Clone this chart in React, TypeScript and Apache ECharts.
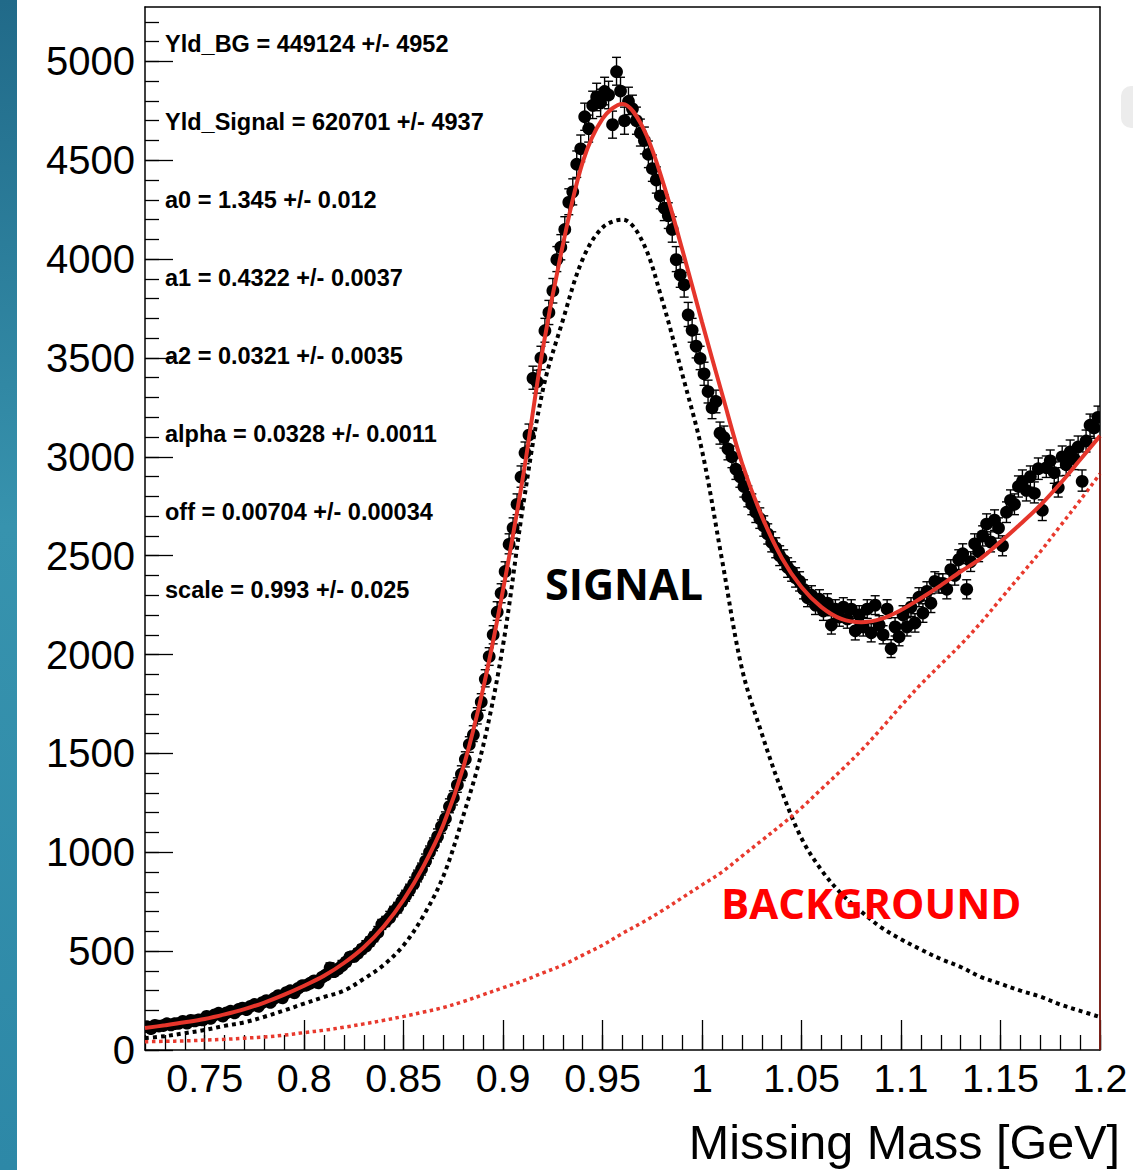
import React, { useEffect, useRef } from "react";
import * as echarts from "echarts";

// Histogram: bin centres start at 0.721 GeV, width 0.002 GeV
const BIN_START = 0.72;
const BIN_WIDTH = 0.002;
const counts = [
  118, 112, 125, 121, 128,
  133, 127, 138, 135, 145,
  142, 150, 147, 158, 152,
  170, 164, 178, 186, 176,
  188, 196, 192, 205, 212,
  208, 221, 230, 226, 240,
  250, 246, 262, 275, 268,
  290, 300, 295, 312, 325,
  332, 338, 350, 345, 368,
  380, 420, 396, 410, 432,
  445, 470, 478, 490, 510,
  530, 548, 572, 600, 635,
  650, 675, 700, 720, 755,
  780, 810, 845, 880, 915,
  960, 1000, 1040, 1085, 1130,
  1170, 1235, 1275, 1340, 1400,
  1470, 1545, 1600, 1690, 1760,
  1880, 1990, 2100, 2220, 2310,
  2420, 2560, 2640, 2760, 2900,
  3020, 3110, 3400, 3380, 3500,
  3640, 3730, 3840, 4000, 4060,
  4150, 4290, 4340, 4480, 4560,
  4720, 4660, 4780, 4820, 4790,
  4850, 4830, 4680, 4950, 4850,
  4700, 4800, 4760, 4700, 4640,
  4600, 4530, 4460, 4400, 4320,
  4260, 4220, 4150, 4000, 3920,
  3870, 3720, 3640, 3560, 3500,
  3420, 3330, 3250, 3280, 3120,
  3100, 3040, 3000, 2940, 2900,
  2850, 2800, 2760, 2720, 2690,
  2650, 2610, 2570, 2540, 2500,
  2480, 2440, 2420, 2390, 2370,
  2330, 2290, 2300, 2250, 2280,
  2220, 2260, 2150, 2230, 2190,
  2240, 2180, 2230, 2120, 2200,
  2140, 2230, 2110, 2250, 2150,
  2100, 2230, 2030, 2140, 2090,
  2200, 2140, 2240, 2160, 2290,
  2210, 2320, 2260, 2370, 2360,
  2360, 2330, 2430, 2400, 2480,
  2510, 2330, 2470, 2560, 2520,
  2600, 2660, 2570, 2680, 2640,
  2550, 2720, 2780, 2760, 2850,
  2880, 2830, 2900, 2820, 2940,
  2730, 2950, 2980, 2920, 2850,
  3000, 2960, 3030, 2990, 3050,
  2880, 3080, 3160, 3150, 3200,
];

// Curves sampled every 0.01 GeV from 0.72 to 1.20
const CURVE_START = 0.72;
const CURVE_STEP = 0.01;
const fitValues = [
  111, 125, 140, 157, 180, 207, 240, 280, 325, 375,
  440, 520, 625, 760, 930, 1140, 1430, 1830, 2330, 2900,
  3550, 4070, 4490, 4710, 4785, 4670, 4400, 4050, 3680, 3320,
  2970, 2700, 2490, 2340, 2240, 2180, 2163, 2180, 2225, 2285,
  2350, 2420, 2485, 2570, 2660, 2755, 2865, 2985, 3106,
];
const signalValues = [
  60, 70, 85, 101, 122, 140, 168, 200, 235, 268,
  300, 360, 430, 530, 680, 880, 1185, 1540, 2050, 2750,
  3340, 3690, 4000, 4160, 4200, 4090, 3790, 3420, 3030, 2480,
  1930, 1600, 1310, 1070, 910, 790, 700, 620, 560, 508,
  460, 420, 370, 335, 300, 270, 230, 198, 167,
];
const backgroundValues = [
  42, 44, 46, 50, 54, 60, 66, 75, 88, 100,
  115, 132, 150, 170, 192, 215, 245, 280, 315, 350,
  390, 430, 480, 530, 590, 645, 705, 770, 835, 900,
  980, 1060, 1140, 1225, 1320, 1415, 1515, 1625, 1740, 1850,
  1950, 2050, 2160, 2280, 2400, 2520, 2650, 2780, 2914,
];

const xMajorTicks = [0.75, 0.8, 0.85, 0.9, 0.95, 1, 1.05, 1.1, 1.15, 1.2];
const yMajorTicks = [0, 500, 1000, 1500, 2000, 2500, 3000, 3500, 4000, 4500, 5000];

const paramLabels = [
  "Yld_BG = 449124 +/- 4952",
  "Yld_Signal = 620701 +/- 4937",
  "a0 = 1.345 +/- 0.012",
  "a1 = 0.4322 +/- 0.0037",
  "a2 = 0.0321 +/- 0.0035",
  "alpha = 0.0328 +/- 0.0011",
  "off = 0.00704 +/- 0.00034",
  "scale = 0.993 +/- 0.025",
];

const X_MIN = 0.72;
const X_MAX = 1.2;
const Y_MIN = 0;
const Y_MAX = 5275;

export default function App() {
  const ref = useRef<HTMLDivElement>(null);

  useEffect(() => {
    if (!ref.current) return;
    const chart = echarts.init(ref.current, undefined, { renderer: "svg" });

    const xMinorTicks: number[] = [];
    for (let i = 0; i <= 48; i++) xMinorTicks.push(Math.round((0.72 + 0.01 * i) * 100) / 100);
    const yMinorTicks: number[] = [];
    for (let v = 0; v <= 5200; v += 100) yMinorTicks.push(v);

    const histData = counts.map((c, i) => [
      Math.round((BIN_START + BIN_WIDTH * (i + 0.5)) * 10000) / 10000,
      c,
      Math.sqrt(c),
    ]);
    const curveX = (i: number) => Math.round((CURVE_START + CURVE_STEP * i) * 100) / 100;
    const fitData = fitValues.map((v, i) => [curveX(i), v]);
    const sigData = signalValues.map((v, i) => [curveX(i), v]);
    const bgData = backgroundValues.map((v, i) => [curveX(i), v]);

    const labFont = '"Liberation Sans", Arial, Helvetica, sans-serif';
    const black = "#000";

    const option: any = {
      animation: false,
      backgroundColor: "#ffffff",
      grid: {
        left: 145,
        right: 33,
        top: 7,
        bottom: 120,
        containLabel: false,
        outerBoundsMode: "none",
      },
      xAxis: [
        {
          type: "value",
          min: X_MIN,
          max: X_MAX,
          position: "bottom",
          axisLine: { show: true, onZero: false, lineStyle: { color: black, width: 1.5 } },
          axisTick: {
            show: true,
            inside: true,
            length: 30,
            customValues: xMajorTicks,
            lineStyle: { color: black, width: 1.3 },
          },
          axisLabel: {
            show: true,
            customValues: xMajorTicks,
            formatter: (v: number) => String(Math.round(v * 100) / 100),
            fontSize: 39.5,
            fontFamily: labFont,
            color: black,
            margin: 8,
          },
          splitLine: { show: false },
        },
        {
          type: "value",
          min: X_MIN,
          max: X_MAX,
          position: "bottom",
          axisLine: { show: false, onZero: false },
          axisTick: {
            show: true,
            inside: true,
            length: 15,
            customValues: xMinorTicks,
            lineStyle: { color: black, width: 1.3 },
          },
          axisLabel: { show: false },
          splitLine: { show: false },
        },
        {
          type: "value",
          min: X_MIN,
          max: X_MAX,
          position: "top",
          axisLine: { show: true, onZero: false, lineStyle: { color: black, width: 1.5 } },
          axisTick: { show: false },
          axisLabel: { show: false },
          splitLine: { show: false },
        },
      ],
      yAxis: [
        {
          type: "value",
          min: Y_MIN,
          max: Y_MAX,
          position: "left",
          axisLine: { show: true, onZero: false, lineStyle: { color: black, width: 1.5 } },
          axisTick: {
            show: true,
            inside: true,
            length: 28,
            customValues: yMajorTicks,
            lineStyle: { color: black, width: 1.3 },
          },
          axisLabel: {
            show: true,
            customValues: yMajorTicks,
            formatter: (v: number) => String(v),
            fontSize: 40,
            fontFamily: labFont,
            color: black,
            margin: 10,
          },
          splitLine: { show: false },
        },
        {
          type: "value",
          min: Y_MIN,
          max: Y_MAX,
          position: "left",
          axisLine: { show: false, onZero: false },
          axisTick: {
            show: true,
            inside: true,
            length: 14,
            customValues: yMinorTicks,
            lineStyle: { color: black, width: 1.3 },
          },
          axisLabel: { show: false },
          splitLine: { show: false },
        },
        {
          type: "value",
          min: Y_MIN,
          max: Y_MAX,
          position: "right",
          axisLine: { show: true, onZero: false, lineStyle: { color: black, width: 1.5 } },
          axisTick: { show: false },
          axisLabel: { show: false },
          splitLine: { show: false },
        },
      ],
      series: [
        {
          name: "signal",
          type: "line",
          data: sigData,
          smooth: 0.35,
          showSymbol: false,
          z: 1,
          lineStyle: { color: "#000000", width: 4, type: [4, 4], cap: "butt" },
        },
        {
          name: "background",
          type: "line",
          data: bgData,
          smooth: 0.35,
          showSymbol: false,
          z: 1,
          lineStyle: { color: "#e8392d", width: 3.5, type: [3.5, 3.5], cap: "butt" },
        },
        {
          name: "data",
          type: "custom",
          data: histData,
          clip: true,
          z: 2,
          encode: { x: 0, y: 1 },
          renderItem: (params: any, api: any) => {
            const x = api.value(0);
            const y = api.value(1);
            const e = api.value(2);
            const p = api.coord([x, y]);
            const t = api.coord([x, y + e]);
            const b = api.coord([x, y - e]);
            const cap = 4.5;
            const ls = { stroke: "#000", lineWidth: 1.4 };
            return {
              type: "group",
              children: [
                { type: "line", shape: { x1: p[0], y1: t[1], x2: p[0], y2: b[1] }, style: ls },
                { type: "line", shape: { x1: p[0] - cap, y1: t[1], x2: p[0] + cap, y2: t[1] }, style: ls },
                { type: "line", shape: { x1: p[0] - cap, y1: b[1], x2: p[0] + cap, y2: b[1] }, style: ls },
                { type: "circle", shape: { cx: p[0], cy: p[1], r: 6.4 }, style: { fill: "#000" } },
              ],
            };
          },
        },
        {
          name: "fit",
          type: "line",
          data: fitData,
          smooth: 0.35,
          showSymbol: false,
          z: 3,
          lineStyle: { color: "#e5352b", width: 4 },
          markLine: {
            silent: true,
            symbol: ["none", "none"],
            label: { show: false },
            lineStyle: { color: "#8e1d14", width: 1.6, type: "solid" },
            data: [[{ coord: [X_MAX, 0] }, { coord: [X_MAX, fitValues[fitValues.length - 1]] }]],
          },
        },
      ],
      graphic: [
        {
          type: "rect",
          shape: { x: 0, y: 0, width: 17, height: 1170 },
          style: {
            fill: new echarts.graphic.LinearGradient(0, 0, 0, 1, [
              { offset: 0, color: "#216a89" },
              { offset: 0.45, color: "#3793ae" },
              { offset: 1, color: "#2d88a7" },
            ]),
          },
          z: 10,
        },
        {
          type: "rect",
          shape: { x: 1121, y: 86, width: 24, height: 42, r: 10 },
          style: { fill: "#ececec" },
          z: 10,
        },
        ...paramLabels.map((t, i) => ({
          type: "text",
          x: 165,
          y: 44 + 78 * i,
          z: 10,
          style: {
            text: t,
            fontSize: 23.5,
            fontWeight: "bold",
            fontFamily: labFont,
            fill: "#000",
            align: "left",
            verticalAlign: "middle",
          },
        })),
        {
          type: "text",
          x: 545,
          y: 583,
          z: 10,
          style: {
            text: "SIGNAL",
            fontSize: 43,
            fontWeight: "bold",
            fontFamily: '"Open Sans", "Noto Sans", sans-serif',
            fill: "#000",
            align: "left",
            verticalAlign: "middle",
          },
        },
        {
          type: "text",
          x: 721,
          y: 902,
          z: 10,
          style: {
            text: "BACKGROUND",
            fontSize: 42,
            fontWeight: "bold",
            fontFamily: '"Open Sans", "Noto Sans", sans-serif',
            fill: "#ff0000",
            align: "left",
            verticalAlign: "middle",
          },
        },
        {
          type: "text",
          x: 1120,
          y: 1142,
          z: 10,
          style: {
            text: "Missing Mass [GeV]",
            fontSize: 48.5,
            fontFamily: labFont,
            fill: "#000",
            align: "right",
            verticalAlign: "middle",
          },
        },
      ],
    };

    chart.setOption(option);
    return () => chart.dispose();
  }, []);

  return (
    <div
      ref={ref}
      style={{
        position: "absolute",
        left: 0,
        top: 0,
        width: 1133,
        height: 1170,
        background: "#fff",
      }}
    />
  );
}
